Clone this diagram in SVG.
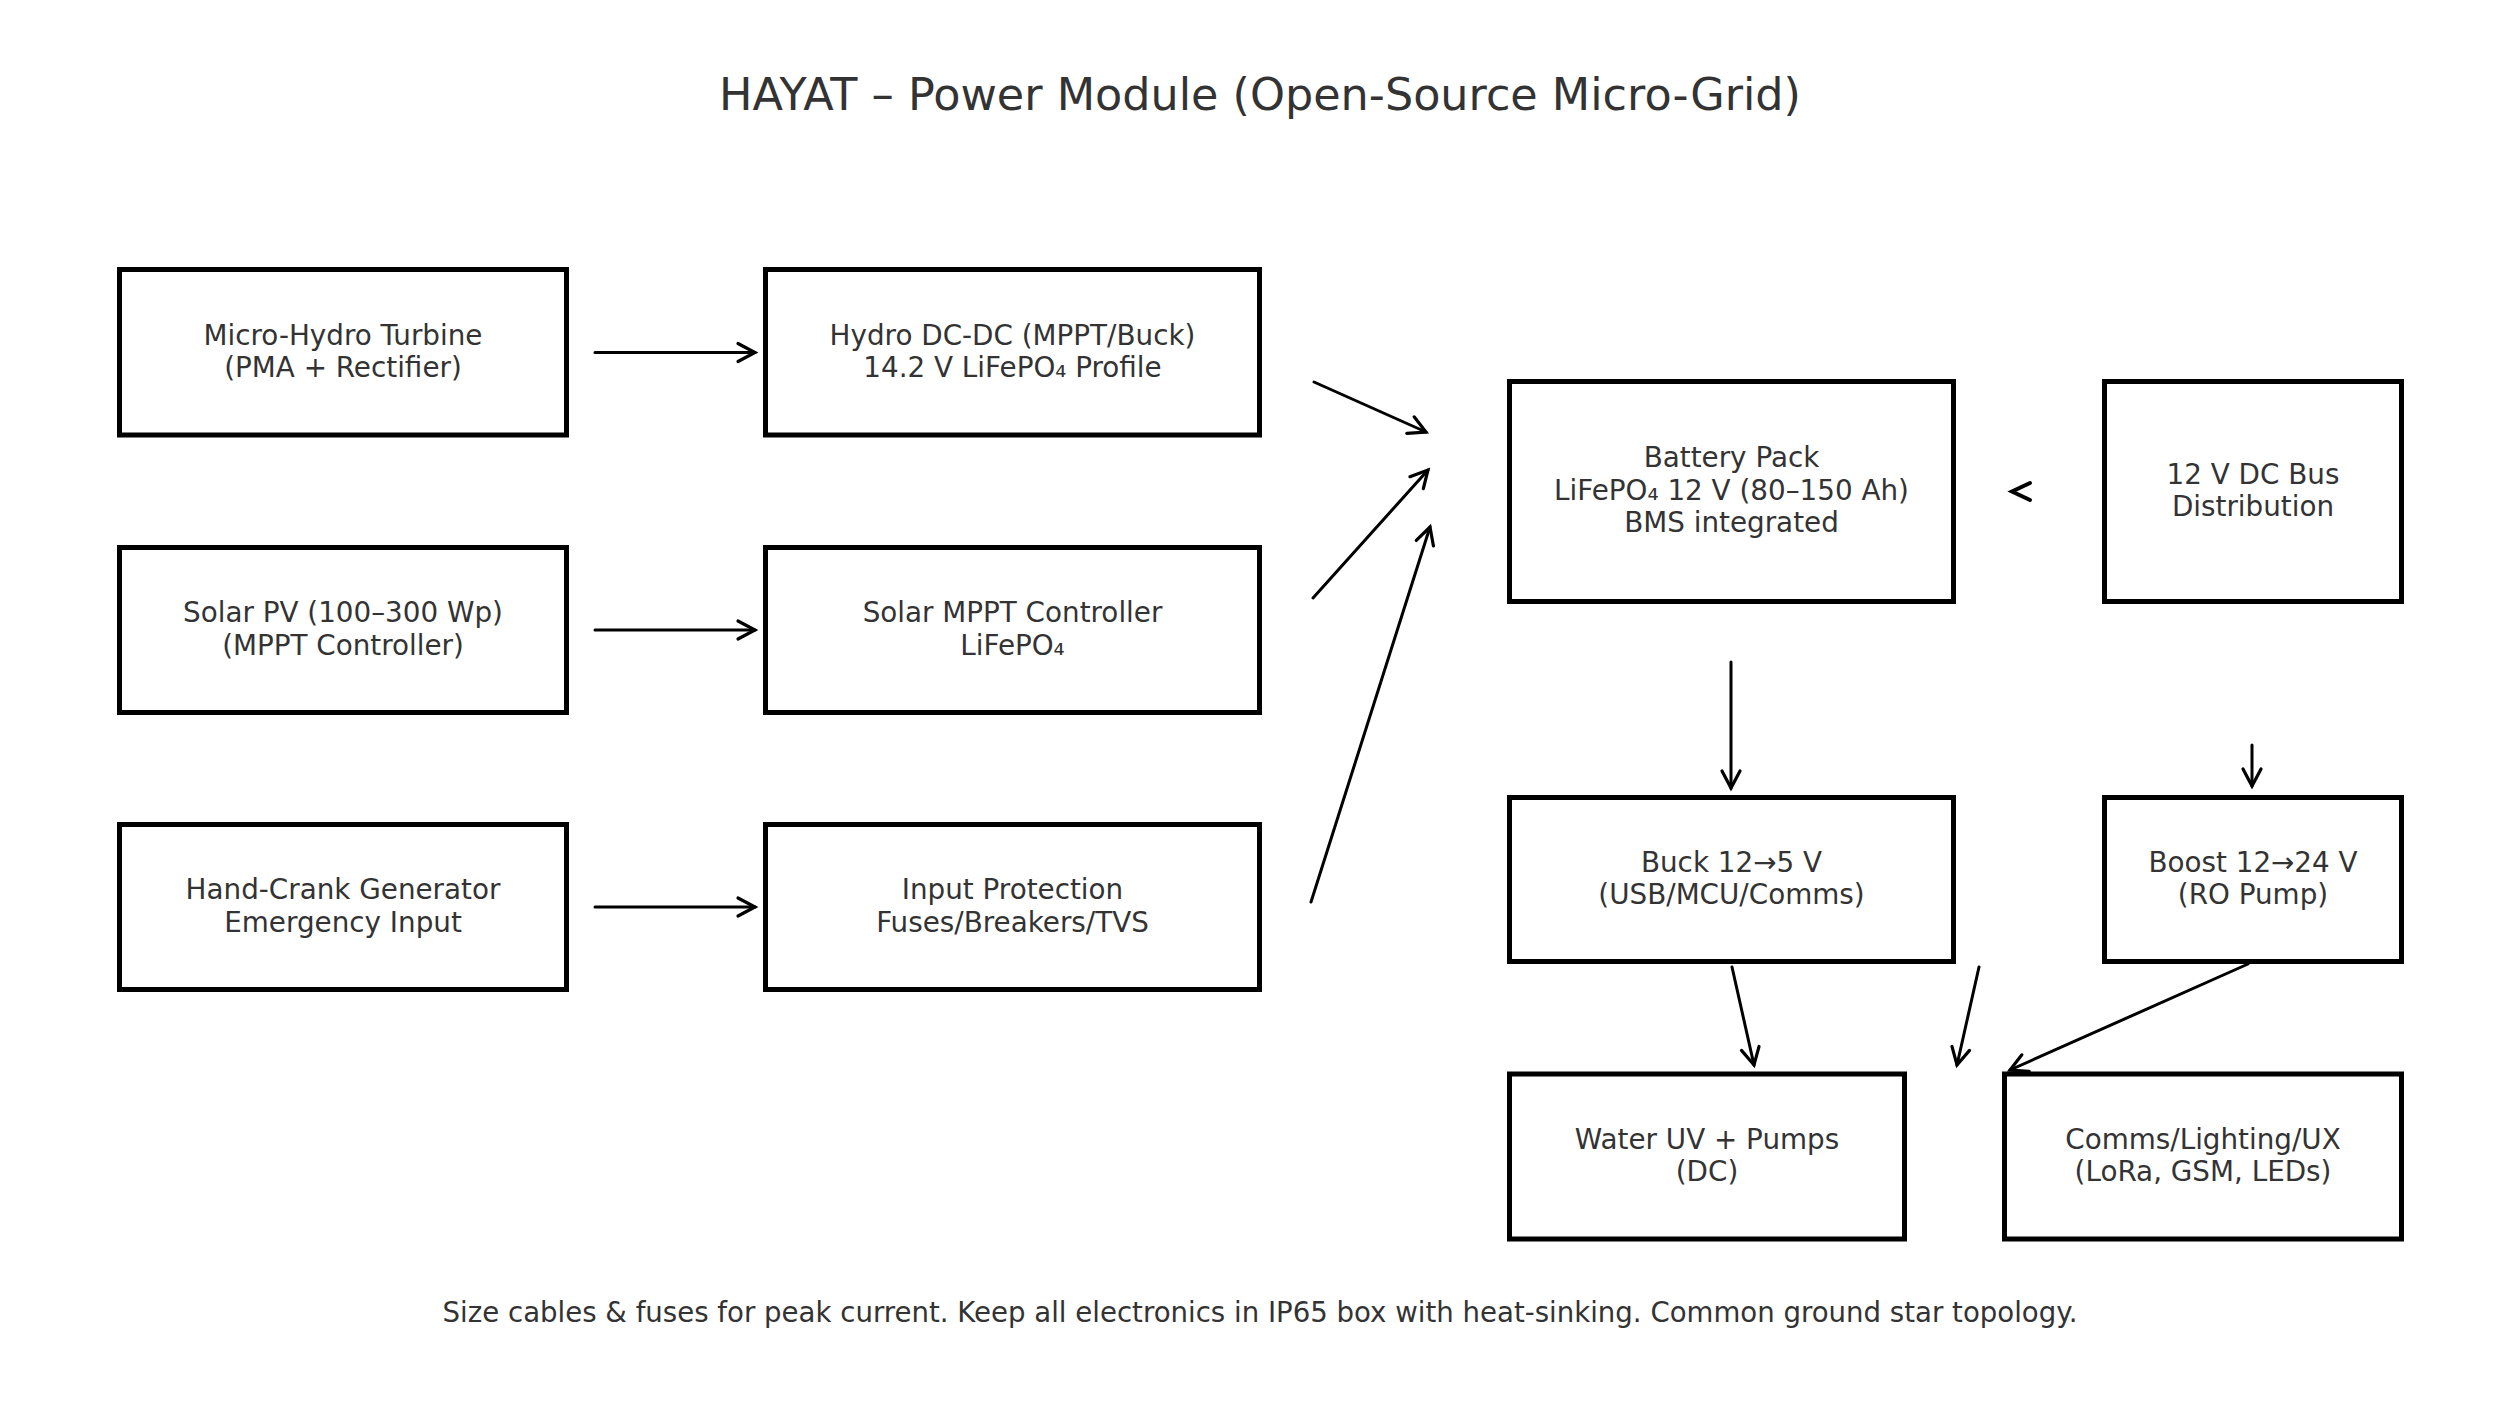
<svg xmlns="http://www.w3.org/2000/svg" width="2520" height="1426" viewBox="0 0 2520 1426">
<style>
  .box { fill: #ffffff; stroke: #000000; stroke-width: 5; }
  .lbl { font-family: "DejaVu Sans", "Liberation Sans", sans-serif; font-size: 27.8px; fill: #333333; text-anchor: middle; }
  .foot { font-family: "DejaVu Sans", "Liberation Sans", sans-serif; font-size: 27.6px; fill: #333333; text-anchor: middle; }
  .title { font-family: "DejaVu Sans", "Liberation Sans", sans-serif; font-size: 44.5px; fill: #333333; text-anchor: middle; }
  .edge { fill: none; stroke: #000000; stroke-width: 3; stroke-linecap: round; }
</style>
<defs>
  <marker id="arr" markerUnits="userSpaceOnUse" orient="auto" refX="0" refY="0" markerWidth="40" markerHeight="40" viewBox="-20 -20 40 40" overflow="visible">
    <path d="M-17,-9 L0,0 L-17,9" fill="none" stroke="#000000" stroke-width="3.2" stroke-linecap="round" stroke-linejoin="miter"/>
  </marker>
</defs>
<rect x="0" y="0" width="2520" height="1426" fill="#ffffff"/>
<text class="title" x="1260" y="110">HAYAT – Power Module (Open-Source Micro-Grid)</text>

<g id="node-hydro-turbine">
  <rect class="box" x="119.5" y="269.5" width="447" height="165.5"/>
  <text class="lbl" x="343" y="344.5">Micro-Hydro Turbine</text>
  <text class="lbl" x="343" y="377">(PMA + Rectifier)</text>
</g>
<g id="node-hydro-dcdc">
  <rect class="box" x="765.5" y="269.5" width="494" height="165.5"/>
  <text class="lbl" x="1012.5" y="344.5">Hydro DC-DC (MPPT/Buck)</text>
  <text class="lbl" x="1012.5" y="377">14.2 V LiFePO₄ Profile</text>
</g>
<g id="node-solar-pv">
  <rect class="box" x="119.5" y="547.5" width="447" height="165"/>
  <text class="lbl" x="343" y="622">Solar PV (100–300 Wp)</text>
  <text class="lbl" x="343" y="654.5">(MPPT Controller)</text>
</g>
<g id="node-solar-mppt">
  <rect class="box" x="765.5" y="547.5" width="494" height="165"/>
  <text class="lbl" x="1012.5" y="622">Solar MPPT Controller</text>
  <text class="lbl" x="1012.5" y="654.5">LiFePO₄</text>
</g>
<g id="node-hand-crank">
  <rect class="box" x="119.5" y="824.5" width="447" height="165"/>
  <text class="lbl" x="343" y="899">Hand-Crank Generator</text>
  <text class="lbl" x="343" y="931.5">Emergency Input</text>
</g>
<g id="node-input-protection">
  <rect class="box" x="765.5" y="824.5" width="494" height="165"/>
  <text class="lbl" x="1012.5" y="899">Input Protection</text>
  <text class="lbl" x="1012.5" y="931.5">Fuses/Breakers/TVS</text>
</g>
<g id="node-battery">
  <rect class="box" x="1509.5" y="381.5" width="444" height="220"/>
  <text class="lbl" x="1731.5" y="467">Battery Pack</text>
  <text class="lbl" x="1731.5" y="499.5">LiFePO₄ 12 V (80–150 Ah)</text>
  <text class="lbl" x="1731.5" y="532">BMS integrated</text>
</g>
<g id="node-dc-bus">
  <rect class="box" x="2104.5" y="381.5" width="297" height="220"/>
  <text class="lbl" x="2253" y="483.5">12 V DC Bus</text>
  <text class="lbl" x="2253" y="516">Distribution</text>
</g>
<g id="node-buck">
  <rect class="box" x="1509.5" y="797.5" width="444" height="164"/>
  <text class="lbl" x="1731.5" y="871.5">Buck 12→5 V</text>
  <text class="lbl" x="1731.5" y="904">(USB/MCU/Comms)</text>
</g>
<g id="node-boost">
  <rect class="box" x="2104.5" y="797.5" width="297" height="164"/>
  <text class="lbl" x="2253" y="871.5">Boost 12→24 V</text>
  <text class="lbl" x="2253" y="904">(RO Pump)</text>
</g>
<g id="node-water">
  <rect class="box" x="1509.5" y="1074" width="395" height="165"/>
  <text class="lbl" x="1707" y="1148.5">Water UV + Pumps</text>
  <text class="lbl" x="1707" y="1181">(DC)</text>
</g>
<g id="node-comms">
  <rect class="box" x="2004.5" y="1074" width="397" height="165"/>
  <text class="lbl" x="2203" y="1148.5">Comms/Lighting/UX</text>
  <text class="lbl" x="2203" y="1181">(LoRa, GSM, LEDs)</text>
</g>

<g id="connectors">
  <path class="edge" d="M595,352.5 L755,352.5" marker-end="url(#arr)"/>
  <path class="edge" d="M595,630 L755,630" marker-end="url(#arr)"/>
  <path class="edge" d="M595,907 L755,907" marker-end="url(#arr)"/>
  <path class="edge" d="M1314,382 L1426,432" marker-end="url(#arr)"/>
  <path class="edge" d="M1313,598 L1428,470" marker-end="url(#arr)"/>
  <path class="edge" d="M1311,902 L1430,527" marker-end="url(#arr)"/>
  <path d="M2030,483 L2012,491.5 L2030,500" fill="none" stroke="#000000" stroke-width="4" stroke-linecap="round"/>
  <path class="edge" d="M1731,662 L1731,788" marker-end="url(#arr)"/>
  <path class="edge" d="M2252,745 L2252,786" marker-end="url(#arr)"/>
  <path class="edge" d="M1732,967 L1754,1065" marker-end="url(#arr)"/>
  <path class="edge" d="M1979,967 L1957,1065" marker-end="url(#arr)"/>
  <path class="edge" d="M2248,964 L2010,1070" marker-end="url(#arr)"/>
</g>

<text class="foot" x="1260" y="1322">Size cables &amp; fuses for peak current. Keep all electronics in IP65 box with heat-sinking. Common ground star topology.</text>
</svg>
